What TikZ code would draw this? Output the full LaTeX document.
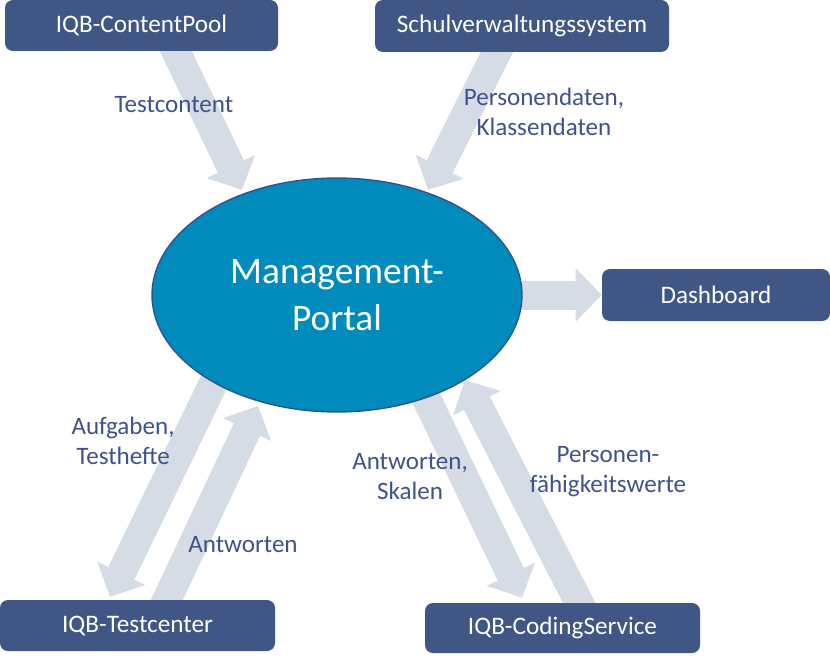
\documentclass[tikz,border=0pt]{standalone}
\usepackage{fontspec}
\setmainfont{Carlito}
\usetikzlibrary{arrows.meta,shapes.geometric,backgrounds}
\definecolor{boxblue}{RGB}{64,86,132}
\definecolor{portalblue}{RGB}{0,139,188}
\definecolor{portalrim}{RGB}{47,82,143}
\definecolor{flowgray}{RGB}{214,220,229}
\definecolor{labelblue}{RGB}{63,82,138}
\tikzset{
  sysbox/.style={fill=boxblue, text=white, rounded corners=6pt, inner sep=0pt, font=\fontsize{18.9}{22}\selectfont},
  flow/.style={draw=flowgray, line width=21.75pt, -{Triangle[length=19.5pt,width=39pt]}},
  flowlabel/.style={text=labelblue, align=center, font=\fontsize{18.8}{22.5}\selectfont}
}

\begin{document}
\begin{tikzpicture}[x=0.75pt, y=-0.75pt]
  \useasboundingbox (0,0) rectangle (830,659);
  \node (pool) [sysbox, minimum width=204.75pt, minimum height=38.25pt] at (141.5,25.5) {IQB-ContentPool};
  \node (school) [sysbox, minimum width=220.5pt, minimum height=39pt] at (522,26) {Schulverwaltungssystem};
  \node (dash) [sysbox, minimum width=171pt, minimum height=39pt] at (716,295) {Dashboard};
  \node (tc) [sysbox, minimum width=206.25pt, minimum height=38.25pt] at (137.5,625.5) {IQB-Testcenter};
  \node (coding) [sysbox, minimum width=206.25pt, minimum height=37.5pt] at (562.5,628) {IQB-CodingService};
  \node (portal) [ellipse, draw=portalrim, line width=1pt, fill=portalblue, text=white, align=center,
    minimum width=277.5pt, minimum height=175.5pt, inner sep=0pt,
    font=\fontsize{28}{35}\selectfont] at (337,295) {Management-\\Portal};

  \begin{scope}[on background layer]
    \draw [flow] ([shift={(28,-13.5)}]pool.south) -- ([shift={(-95,-105)}]portal.center);
    \draw [flow] ([shift={(-18.4,-13.5)}]school.south) -- ([shift={(91,-105)}]portal.center);
    \draw [flow] (portal.center) -- (dash.west);
    \draw [flow] ([shift={(-108,56)}]portal.center) -- ([shift={(-27.5,-3)}]tc.north);
    \draw [flow] ([shift={(23,13.6)}]tc.north) -- ([shift={(-79,111)}]portal.center);
    \draw [flow] ([shift={(70,63)}]portal.center) -- ([shift={(-40.5,-5)}]coding.north);
    \draw [flow] ([shift={(23.4,13.3)}]coding.north) -- ([shift={(128,85)}]portal.center);
  \end{scope}

  \node (lcontent) [flowlabel] at (174,105) {Testcontent};
  \node (lpersonen) [flowlabel] at (544,112) {Personendaten,\\Klassendaten};
  \node (laufgaben) [flowlabel] at (123,441) {Aufgaben,\\Testhefte};
  \node (lantw) [flowlabel] at (243,545) {Antworten};
  \node (lskalen) [flowlabel] at (410,477) {Antworten,\\Skalen};
  \node (lfaehig) [flowlabel] at (608,472) {Personen-\\fähigkeitswerte};
\end{tikzpicture}
\end{document}
